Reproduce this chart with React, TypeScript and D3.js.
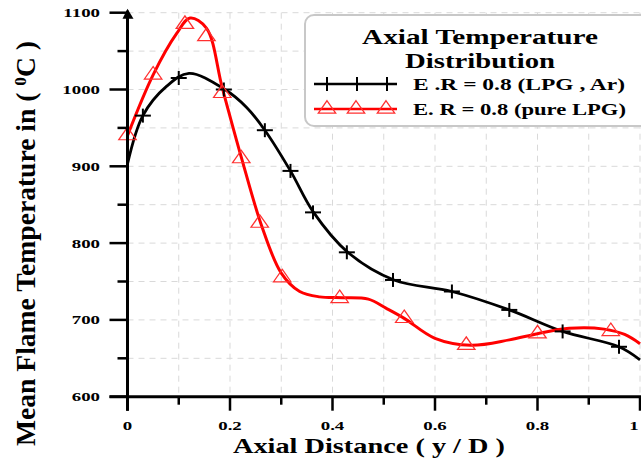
import React from "react";
import * as d3 from "d3";

// ---- data ----
const blackCurveX = [0, 0.03, 0.076, 0.12, 0.19, 0.232, 0.268, 0.318, 0.362, 0.43, 0.52, 0.633, 0.745, 0.849, 0.959, 1.0];
const blackCurveY = [903, 966, 1004, 1021, 1000, 977, 947, 894, 841, 788, 752, 737, 713, 685, 665, 648];
const blackMarkX = [0.03, 0.1, 0.188, 0.268, 0.318, 0.362, 0.428, 0.518, 0.633, 0.745, 0.849, 0.959];
const blackMarkY = [966, 1015, 1000, 947, 894, 840, 788, 752, 737, 713, 685, 665];

const redCurveX = [0, 0.05, 0.096, 0.122, 0.154, 0.185, 0.222, 0.262, 0.3, 0.336, 0.375, 0.42, 0.47, 0.505, 0.54, 0.6, 0.67, 0.745, 0.8, 0.862, 0.93, 0.97, 1.0];
const redCurveY = [940, 1019, 1073, 1093, 1080, 1002, 912, 822, 761, 737, 730, 729, 727, 715, 702, 676, 667, 674, 682, 689, 688, 681, 669];
const redMarkX = [0, 0.05, 0.112, 0.154, 0.185, 0.222, 0.258, 0.302, 0.414, 0.54, 0.661, 0.8, 0.943];
const redMarkY = [940, 1019, 1085, 1069, 995, 910, 826, 755, 728, 702, 667, 682, 685];

const xTicks = [0, 0.2, 0.4, 0.6, 0.8, 1];
const xTickLabels = ["0", "0.2", "0.4", "0.6", "0.8", "1"];
const xMinor = [0.1, 0.3, 0.5, 0.7, 0.9];
const yTicks = [600, 700, 800, 900, 1000, 1100];
const yMinor = [650, 750, 850, 950, 1050];
const xGrid = [0.1, 0.2, 0.3, 0.4, 0.5, 0.6, 0.7, 0.8, 0.9, 1.0];
const yGrid = [650, 700, 750, 800, 850, 900, 950, 1000, 1050, 1100];

const legendTitle = ["Axial Temperature", "Distribution"];
const seriesNames = ["E .R = 0.8  (LPG , Ar)", "E. R = 0.8 (pure LPG)"];

const FONT = "Liberation Serif, Times New Roman, serif";

const x = d3.scaleLinear().domain([0, 1]).range([127.5, 640]);
const y = d3.scaleLinear().domain([600, 1100]).range([396.7, 12.7]);

const line = d3
  .line<[number, number]>()
  .x((d) => x(d[0]))
  .y((d) => y(d[1]))
  .curve(d3.curveCatmullRom.alpha(0.5));

const zip = (a: number[], b: number[]) => a.map((v, i) => [v, b[i]] as [number, number]);

const tri = d3.symbol().type(d3.symbolTriangle).size(100)();

function Plus({ cx, cy }: { cx: number; cy: number }) {
  return (
    <g stroke="#000" strokeWidth={2}>
      <line x1={cx - 8} x2={cx + 8} y1={cy} y2={cy} />
      <line x1={cx} x2={cx} y1={cy - 7} y2={cy + 7} />
    </g>
  );
}

function Tri({ cx, cy }: { cx: number; cy: number }) {
  return (
    <path
      d={tri as string}
      transform={`translate(${cx},${cy}) scale(1.15,0.95)`}
      fill="none"
      stroke="#ff3030"
      strokeWidth={1.2}
    />
  );
}

export default function App() {
  const gridStyle = { stroke: "#d9d9d9", strokeWidth: 1, strokeDasharray: "6,5" };
  return (
    <svg
      width={641}
      height={461}
      style={{ position: "absolute", left: 0, top: 0, background: "#fff", fontFamily: FONT }}
    >
      <rect x={0} y={0} width={641} height={461} fill="#fff" />
      {/* grid */}
      {xGrid.map((v) => (
        <line key={"gx" + v} x1={x(v)} x2={x(v)} y1={y(1100)} y2={y(600)} {...gridStyle} />
      ))}
      {yGrid.map((v) => (
        <line key={"gy" + v} x1={x(0)} x2={x(1)} y1={y(v)} y2={y(v)} {...gridStyle} />
      ))}

      {/* legend box */}
      <rect x={305} y={15} width={345} height={111} rx={9} fill="#fff" stroke="#c8c8c8" strokeWidth={2} />
      <text x={480} y={43.5} textAnchor="middle" fontSize={20} fontWeight="bold" textLength={236} lengthAdjust="spacingAndGlyphs">
        {legendTitle[0]}
      </text>
      <text x={480} y={68} textAnchor="middle" fontSize={20} fontWeight="bold" textLength={150} lengthAdjust="spacingAndGlyphs">
        {legendTitle[1]}
      </text>
      <line x1={314} x2={397} y1={84} y2={84} stroke="#000" strokeWidth={2.5} />
      {[327, 357, 387].map((cx) => (
        <Plus key={"lp" + cx} cx={cx} cy={84} />
      ))}
      <line x1={314} x2={397} y1={109} y2={109} stroke="#ff0000" strokeWidth={2.5} />
      {[327, 356, 386].map((cx) => (
        <Tri key={"lt" + cx} cx={cx} cy={109} />
      ))}
      <text x={413} y={90} fontSize={17} fontWeight="bold" textLength={212} lengthAdjust="spacingAndGlyphs">
        {seriesNames[0]}
      </text>
      <text x={413} y={115} fontSize={17} fontWeight="bold" textLength={213} lengthAdjust="spacingAndGlyphs">
        {seriesNames[1]}
      </text>

      {/* curves */}
      <path d={line(zip(blackCurveX, blackCurveY)) as string} fill="none" stroke="#000" strokeWidth={2.8} />
      <path d={line(zip(redCurveX, redCurveY)) as string} fill="none" stroke="#ff0000" strokeWidth={3} />
      {blackMarkX.map((v, i) => (
        <Plus key={"bm" + i} cx={x(v)} cy={y(blackMarkY[i])} />
      ))}
      {redMarkX.map((v, i) => (
        <Tri key={"rm" + i} cx={x(v)} cy={y(redMarkY[i])} />
      ))}

      {/* axes */}
      <line x1={x(0)} x2={x(0)} y1={y(1100) - 2} y2={y(600) + 14} stroke="#000" strokeWidth={3} />
      <path d={`M${x(0) - 5},${y(1100) + 6} L${x(0) + 6},${y(1100) + 6} L${x(0)},${y(1100) - 4} Z`} fill="#000" />
      <line x1={x(0) - 18} x2={x(1) + 2} y1={y(600)} y2={y(600)} stroke="#000" strokeWidth={3} />
      {yTicks.map((v) => (
        <line key={"yt" + v} x1={x(0) - 18} x2={x(0)} y1={y(v)} y2={y(v)} stroke="#000" strokeWidth={2.5} />
      ))}
      {yMinor.map((v) => (
        <line key={"ym" + v} x1={x(0) - 10} x2={x(0)} y1={y(v)} y2={y(v)} stroke="#000" strokeWidth={2.5} />
      ))}
      {xTicks.map((v) => (
        <line key={"xt" + v} x1={x(v)} x2={x(v)} y1={y(600)} y2={y(600) + 14} stroke="#000" strokeWidth={2.5} />
      ))}
      {xMinor.map((v) => (
        <line key={"xm" + v} x1={x(v)} x2={x(v)} y1={y(600)} y2={y(600) + 8} stroke="#000" strokeWidth={2.5} />
      ))}
      {yTicks.map((v) => (
        <text
          key={"yl" + v}
          transform={`translate(100,${y(v) + 4.5}) scale(1.45,1)`}
          textAnchor="end"
          fontSize={13}
          fontWeight="bold"
        >
          {v}
        </text>
      ))}
      {xTicks.map((v, i) => (
        <text
          key={"xl" + v}
          transform={`translate(${Math.min(x(v), 634)},430) scale(1.45,1)`}
          textAnchor="middle"
          fontSize={13}
          fontWeight="bold"
        >
          {xTickLabels[i]}
        </text>
      ))}

      {/* axis titles */}
      <text x={369} y={453} textAnchor="middle" fontSize={22} fontWeight="bold" textLength={272} lengthAdjust="spacingAndGlyphs">
        Axial Distance ( y / D )
      </text>
      <text
        transform="translate(35,243.5) rotate(-90)"
        textAnchor="middle"
        fontSize={27}
        fontWeight="bold"
        textLength={405}
        lengthAdjust="spacingAndGlyphs"
      >
        Mean Flame Temperature in ( <tspan fontSize={17} dy={-9}>0</tspan>
        <tspan dy={9}>C )</tspan>
      </text>
    </svg>
  );
}
